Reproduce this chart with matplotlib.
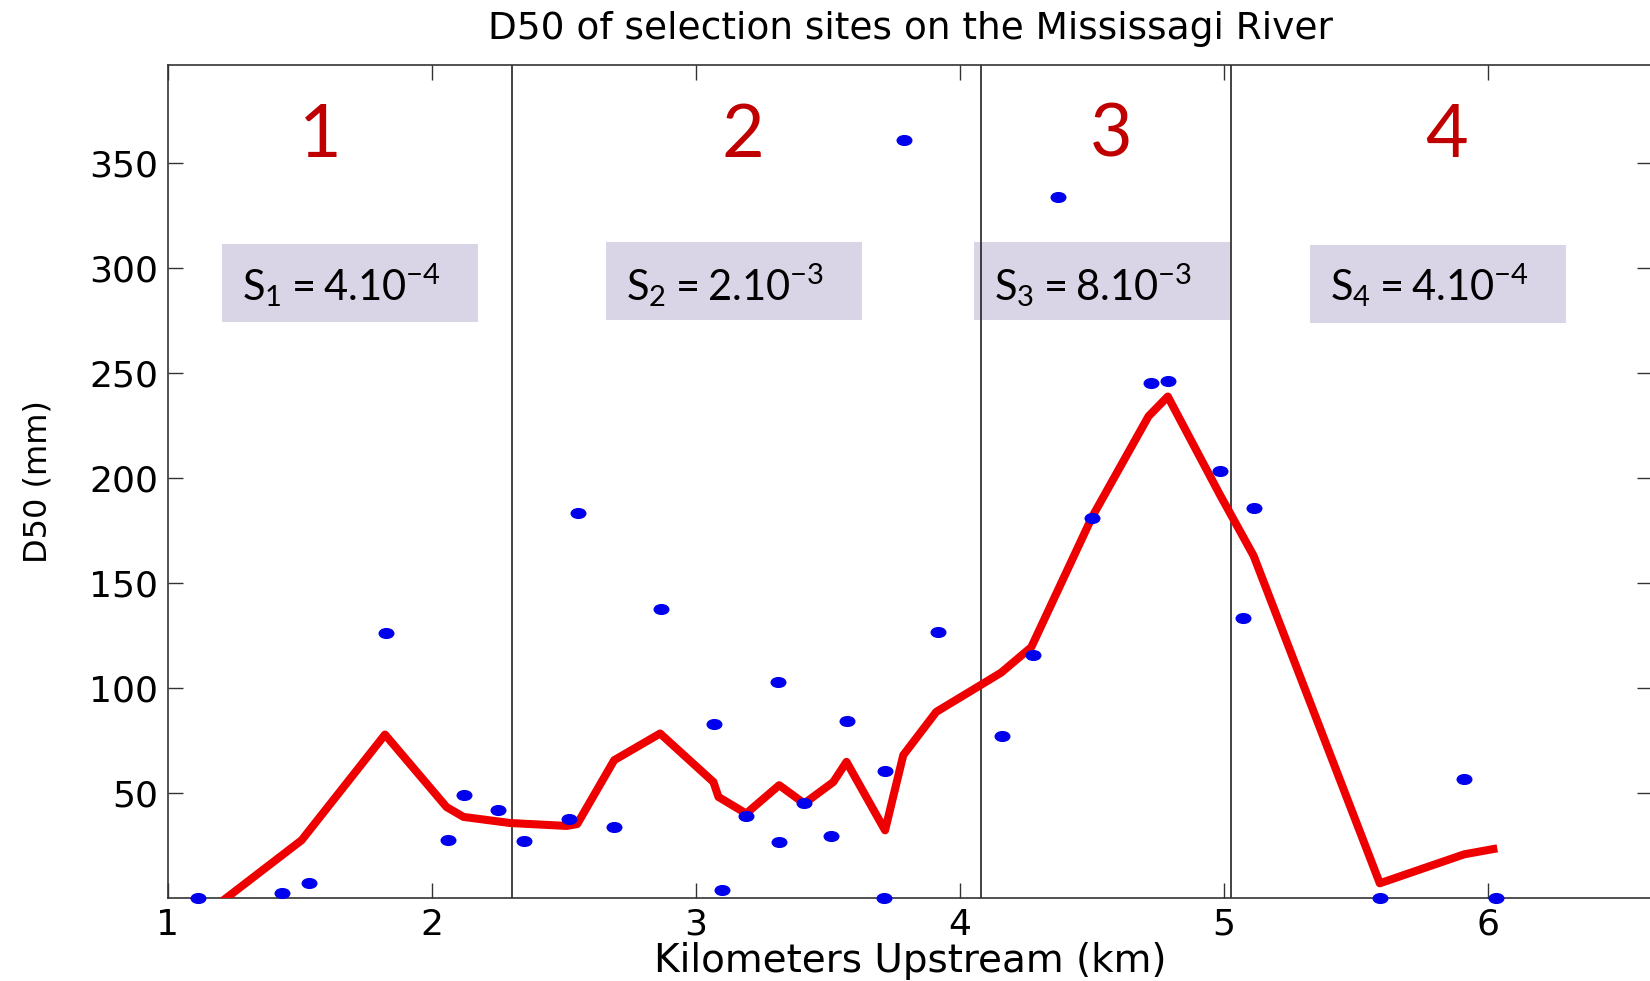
import matplotlib
matplotlib.use("Agg")
import matplotlib.pyplot as plt
import matplotlib.patches as mpatches
from matplotlib.path import Path
from matplotlib.transforms import Affine2D

# ---------------------------------------------------------------------------
# Data
# ---------------------------------------------------------------------------
# sample sites: distance upstream (km) and D50 (mm)
site_km = [1.112, 1.433, 1.535, 1.826, 2.062, 2.121, 2.249, 2.348, 2.52, 2.552,
           2.69, 2.867, 3.068, 3.10, 3.19, 3.309, 3.315, 3.41, 3.513, 3.57,
           3.716, 3.712, 3.788, 3.918, 4.16, 4.275, 4.37, 4.5, 4.723, 4.787,
           4.985, 5.07, 5.115, 5.59, 5.91, 6.03]
site_d50 = [0, 2.4, 7.3, 125.9, 27.8, 48.9, 41.8, 27.1, 37.5, 183.4,
            33.8, 137.6, 83, 3.7, 39, 102.6, 26.5, 45, 29.4, 84.1,
            60.3, 0, 360.8, 126.4, 76.9, 115.5, 333.8, 181, 245.3, 246,
            203.2, 133.3, 185.7, 0, 56.7, 0]

# smoothed trend (red line)
trend_km = [1.112, 1.506, 1.822, 2.055, 2.119, 2.295, 2.51, 2.55, 2.69, 2.864,
            3.066, 3.085, 3.19, 3.315, 3.41, 3.52, 3.57, 3.716, 3.785, 3.91,
            4.08, 4.156, 4.27, 4.5, 4.714, 4.787, 4.985, 5.112, 5.59, 5.91, 6.02]
trend_d50 = [-10.5, 27.5, 77.8, 43.3, 38.6, 35.7, 34.3, 35.2, 65.6, 78.3,
             55.2, 48.1, 40.2, 53.7, 45, 55.2, 64.8, 32.2, 68, 88.6,
             101.5, 107.3, 119.4, 181.3, 229.3, 238.7, 191.8, 162.9, 7, 20.8, 23.3]

# reach boundaries (km) and reach annotations
reach_bounds = [2.304, 4.08, 5.025]
reach_names = ["1", "2", "3", "4"]
slope_texts = [r"$\mathregular{S_1 = 4.10^{-4}}$",
               r"$\mathregular{S_2 = 2.10^{-3}}$",
               r"$\mathregular{S_3 = 8.10^{-3}}$",
               r"$\mathregular{S_4 = 4.10^{-4}}$"]

# annotation placement (data coords)
name_x = [1.576, 3.177, 4.571, 5.842]
name_y = 352.9
box_x = [1.2045, 2.659, 4.053, 5.326]
box_y = [274, 275, 275, 273.5]
box_w, box_h = 0.97, 37.3
text_pad = 0.077
text_y = 284.6

plt.rcParams["mathtext.fontset"] = "custom"
plt.rcParams["mathtext.rm"] = "Lato"


def main() -> None:
    W, H = 1650, 981
    fig = plt.figure(figsize=(W / 100, H / 100), dpi=100)
    ax = fig.add_axes([168 / W, 1 - 898 / H, (1652 - 168) / W, (898 - 65) / H])

    ax.set_xlim(1, 6.621)
    ax.set_ylim(0, 396.5)

    # slope boxes (under the reach lines)
    for x0, y0, txt in zip(box_x, box_y, slope_texts):
        ax.add_patch(mpatches.Rectangle((x0, y0), box_w, box_h,
                                        facecolor="#DAD5E6", edgecolor="none",
                                        zorder=1))
        ax.text(x0 + text_pad, text_y, txt, family="Lato", fontsize=30,
                ha="left", va="baseline", color="black", zorder=2)

    for xb in reach_bounds:
        ax.axvline(xb, color="#222222", lw=1.2, zorder=2)

    for xn, name in zip(name_x, reach_names):
        ax.text(xn, name_y, name, family="Lato", fontsize=53, color="#C00000",
                ha="center", va="baseline", zorder=3)

    ax.plot(trend_km, trend_d50, color="#EE0000", lw=5.8, zorder=4)

    # wide elliptical dots like the stretched original
    ellipse = Path.unit_circle().transformed(Affine2D().scale(1.5, 1.0))
    ax.plot(site_km, site_d50, linestyle="none", marker=ellipse,
            markersize=10.5, color="#0000EE", zorder=5, clip_on=False)

    ax.set_xticks([1, 2, 3, 4, 5, 6])
    ax.set_yticks([50, 100, 150, 200, 250, 300, 350])
    ax.tick_params(direction="in", length=10.8, width=1.0, top=True,
                   right=True, labelsize=26, pad=7, color="#333333")
    for lab in ax.get_xticklabels() + ax.get_yticklabels():
        lab.set_family("DejaVu Sans")
    for sp in ax.spines.values():
        sp.set_color("#333333")
        sp.set_linewidth(1.2)

    ax.set_title("D50 of selection sites on the Mississagi River",
                 fontsize=27, family="DejaVu Sans", pad=19)
    ax.set_xlabel("Kilometers Upstream (km)", fontsize=28,
                  family="DejaVu Sans", labelpad=0)
    ax.set_ylabel("D50 (mm)", fontsize=23, family="DejaVu Sans", labelpad=26)

    fig.savefig("out.png", dpi=100)
    plt.close(fig)


if __name__ == "__main__":
    main()
